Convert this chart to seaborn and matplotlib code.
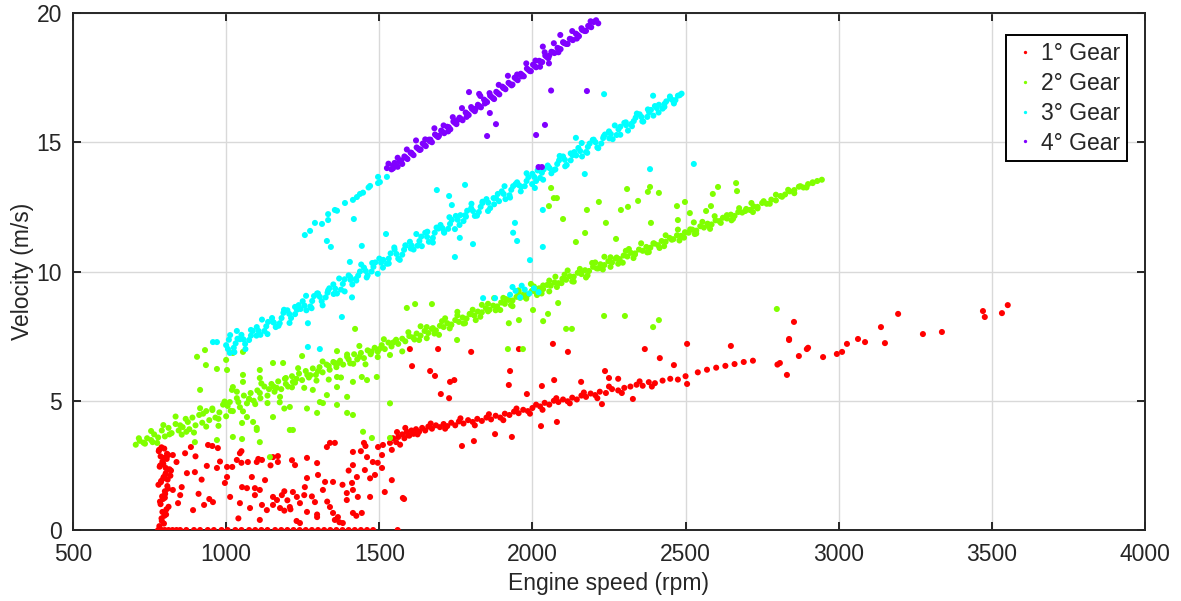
import matplotlib
matplotlib.use("Agg")
import matplotlib.pyplot as plt
import seaborn as sns
import pandas as pd

# ---------------- data (engine speed rpm, velocity m/s) ----------------
gear1_idle = [(782,0.15),(790,0.35),(798,0.55),(805,0.8),(786,1.0),(794,1.2),(801,1.4),(810,1.6),
              (779,1.75),(788,1.9),(796,2.05),(803,2.2),(815,2.35),(785,2.5),(792,2.65),(799,2.8),
              (807,2.95),(781,3.1),(789,3.2),(797,0.25),(804,0.6),(812,0.9),(784,1.1),(791,1.3),
              (800,1.5),(808,1.7),(787,1.85),(795,2.0),(802,2.15),(820,2.3),(783,2.45),(793,2.6),
              (806,2.75),(811,2.9),(780,3.05),(798,3.15),(789,0.45),(826,1.55),(803,2.4),(795,2.55),
              (786,2.85),(809,1.95),(792,0.7),(818,2.1),(800,1.25)]
gear1_zero = [778,790,800,812,825,838,850,870,895,915,940,960,985,1005,1030,1050,1075,1095,1115,
              1135,1160,1180,1200,1220,1240,1260,1280,1300,1320,1340,1360,1380,1400,1420,1440,
              1460,1480,1560]
gear1_low = [(826,2.90),(838,2.63),(866,2.97),(885,3.21),(872,2.20),(898,2.24),(855,1.66),(850,1.35),
             (843,1.04),(892,0.77),(928,0.97),(957,1.08),(941,3.29),(955,3.25),(973,3.17),(937,2.48),
             (970,2.40),(1003,2.44),(1020,2.44),(1035,2.71),(1050,2.60),(1071,2.63),(1100,2.63),
             (1117,2.71),(1153,2.82),(1169,2.63),(1003,2.05),(996,1.82),(1084,2.05),(1013,1.28),
             (1045,1.04),(1052,1.66),(1068,1.62),(1094,1.62),(1110,1.55),(1094,1.35),(1078,0.85),
             (1117,0.97),(1127,1.93),(1153,1.28),(1166,1.16),(1182,1.35),(1153,0.97),(1176,0.85),
             (1208,0.89),(1218,1.47),(1231,1.28),(1241,1.04),(1225,2.51),(1264,2.79),(1297,2.59),
             (1264,2.01),(1300,2.13),(1257,1.66),(1323,1.86),(1349,1.86),(1316,1.55),(1290,1.08),
             (1264,0.70),(1297,0.50),(1339,0.89),(1349,0.66),(1365,0.50),(1381,0.27),(1329,3.21),
             (1339,3.37),(1355,3.37),(1414,3.02),(1450,3.37),(1455,3.25),(1414,2.51),(1460,2.82),
             (1453,2.32),(1427,2.05),(1411,1.82),(1414,1.55),(1394,1.43),(1394,1.16),(1430,1.28),
             (1470,1.28),(1443,0.66),(1045,2.97),(1105,2.75),(1169,2.86),(1241,0.27),(1230,0.35),
             (1110,0.39),(1355,0.39),(1370,0.30),(1414,0.66),(1425,0.55),(1297,0.60),(1133,0.77),
             (1190,0.75),(1210,0.80),(920,1.95),(945,1.20),(910,1.40),(1040,0.45),(1255,1.35),
             (1190,1.50),(1280,1.30),(1200,1.15),(1330,1.10),(1380,1.75),(1400,2.30),(1470,2.00),
             (1495,2.60),(1440,3.05),(1050,3.05),(980,2.65),(900,2.85),(1145,2.50),(1215,2.70),
             (1486,2.13),(1479,2.63),(1496,3.21),(1512,3.29),(1509,2.90),(1509,2.40),(1535,3.37),
             (1541,3.10),(1541,1.93),(1518,1.47),(1577,1.24),(1558,3.79),(1594,3.67),(1545,3.55)]
gear1_band = [(1555,3.40),(1562,3.60),(1568,3.30),(1575,3.70),(1582,3.55),(1590,3.80),(1598,3.65),
              (1605,3.85),(1612,3.72),(1620,3.90),(1630,3.80),(1640,3.95),(1650,3.85),(1660,4.00),
              (1672,3.92),(1685,4.05),(1698,3.98),(1710,4.10),(1722,4.02),(1735,4.15),(1748,4.05),
              (1760,4.20),(1775,4.12),(1790,4.25),(1805,4.18),(1820,4.30),(1835,4.22),(1850,4.35),
              (1865,4.28),(1880,4.42),(1895,4.35),(1910,4.50),(1925,4.45),(1940,4.58),(1955,4.52),
              (1970,4.65),(1985,4.60),(2000,4.72),(2012,4.85),(2025,4.78),(2040,4.92),(2055,4.85),
              (2070,5.00),(2085,4.95),(2100,5.05),(2115,4.98),(2130,5.12),(2145,5.05),(2160,5.20),
              (2175,5.15),(2190,5.28),(2205,5.22),(2220,5.35),(2240,5.30),(2260,5.45),(2280,5.40),
              (2300,5.50),(2320,5.55),(2340,5.62),(2360,5.58),(2380,5.72),(2400,5.68),(2425,5.78),
              (2450,5.85),(2475,5.82),(2500,5.95),(2540,6.10),(2570,6.20),(2600,6.28),(2630,6.35),
              (2660,6.42),(2690,6.50),(2720,6.55),(2800,6.40),(2831,6.00),(2870,6.73),(2896,7.00),
              (2949,6.69),(2994,6.81),(3011,6.89),(3027,7.20),(3063,7.39),(3086,7.27),(3151,7.23),
              (3138,7.85),(3194,8.36),(3275,7.58),(3337,7.66),(3471,8.47),(3477,8.24),(3533,8.39),
              (3552,8.70),(2808,6.46),(2838,7.39),(2854,8.05),(2900,7.05),
              (1585,3.95),(1625,3.70),(1668,4.12),(1715,3.92),(1765,4.32),(1812,4.05),(1858,4.48),
              (1905,4.25),(1948,4.70),(1992,4.50),(2033,4.65),(2078,5.10),(2122,4.90),(2168,5.32),
              (2212,5.10),(2250,5.55),(2292,5.30),(2350,5.75),(2390,5.55)]
gear1_out = [(2067,7.20),(2116,6.89),(2237,6.15),(2250,5.88),(2280,5.85),(2367,7.00),(2416,6.65),
             (2462,6.38),(2505,7.20),(2505,5.65),(2648,7.12),(2838,7.35),(1800,6.89),(1927,6.15),
             (1923,5.61),(1956,7.00),(1600,7.00),(1692,7.00),(1607,6.34),(1666,6.15),(1682,5.96),
             (1731,5.73),(1745,5.80),(1701,5.26),(1728,5.10),(1982,5.26),(2031,5.57),(2071,5.80),
             (2159,5.73),(1770,3.25),(1809,3.44),(1878,3.71),(1933,3.60),(2028,4.02),(2080,4.18),
             (2227,4.87),(2328,5.07),(1581,1.20)]

gear2_band = [(705,3.30),(718,3.45),(730,3.38),(742,3.55),(755,3.48),(765,3.70),(778,3.58),(790,3.85),
              (800,3.62),(812,3.95),(822,3.75),(835,4.10),(845,3.85),(858,3.98),(868,4.30),(880,3.90),
              (890,4.35),(900,4.05),(912,4.45),(922,4.15),(935,4.60),(945,4.25),(955,4.70),(965,4.35),
              (978,4.55),(990,4.85),(1000,4.40),(1012,4.95),(1022,4.60),(1035,5.10),(1045,4.75),
              (1058,5.20),(1068,4.90),(1080,5.30),(1090,5.00),(1102,5.40),(1112,5.10),(1125,5.55),
              (1135,5.20),(1148,5.65),(1158,5.35),(1170,5.75),(1180,5.45),(1192,5.85),(1202,5.55),
              (1215,5.95),(1225,5.70),(1238,6.05),(1248,5.80),(1260,6.15),(1270,5.90),(1283,6.25),
              (1293,6.00),(1305,6.30),(1315,6.10),(1328,6.40),(1338,6.20),(1350,6.50),(1360,6.30),
              (1372,6.55),(1382,6.40),(1395,6.70),(1405,6.45),(1418,6.80),(1428,6.60),(1440,6.85),
              (1450,6.65),(1462,6.95),(1472,6.80),(1485,7.05),(1495,6.90),(1508,7.15),(1518,7.00),
              (1530,7.25),(1540,7.10),(1552,7.30),(1562,7.20),(1575,7.40),(1585,7.30),(1598,7.50),
              (760,3.40),(850,4.05),(870,3.80),(925,4.50),(975,4.30),(1005,4.80),(1040,4.95),
              (1075,5.05),(1110,5.30),(1140,5.45),(1165,5.50),(1195,5.65),(1230,5.85),(1265,6.00),
              (1300,6.15),(1335,6.35),(1365,6.45),(1400,6.60),(1435,6.70),(1470,6.90),(1500,7.00),
              (1545,7.25),
              (1610,7.45),(1622,7.60),(1635,7.52),(1648,7.70),(1660,7.62),(1672,7.78),(1685,7.72),
              (1698,7.90),(1710,7.85),(1722,8.00),(1735,7.95),(1748,8.12),(1760,8.05),(1772,8.22),
              (1785,8.18),(1798,8.35),(1810,8.30),(1822,8.45),(1835,8.42),(1848,8.58),(1860,8.52),
              (1872,8.68),(1885,8.65),(1898,8.80),(1910,8.75),(1922,8.90),(1935,8.88),(1948,9.02),
              (1960,8.98),(1972,9.12),(1985,9.10),(1998,9.25),(2010,9.22),(2022,9.35),(2035,9.32),
              (2048,9.48),(2060,9.45),(2072,9.58),(2085,9.55),(2098,9.72),(2110,9.68),(2122,9.82),
              (2135,9.80),(2148,9.95),(2160,9.90),(2172,10.05),(2185,10.02),(2198,10.18),(2210,10.12),
              (2222,10.28),(2235,10.25),(2248,10.40),(2260,10.35),(2272,10.50),(2285,10.48),
              (2298,10.62),(2310,10.58),(2322,10.72),(2335,10.70),(2348,10.85),(2360,10.80),
              (2372,10.95),(2385,10.92),(2398,11.08),(2410,11.02),(2422,11.18),(2435,11.15),
              (2448,11.30),(2460,11.25),(2472,11.40),(2485,11.38),(2498,11.52),(2510,11.50),
              (2522,11.62),(2535,11.58),(2548,11.75),(2560,11.70),(2572,11.85),(2585,11.82),
              (2598,11.98),(2610,11.95),(2622,12.08),(2635,12.05),(2648,12.20),(2660,12.15),
              (2672,12.30),(2685,12.28),(2698,12.42),(2710,12.38),(2722,12.52),(2735,12.50),
              (2750,12.65),(2765,12.62),(2780,12.78),(2795,12.75),(2810,12.92),(2825,12.98),
              (2840,13.10),(2855,13.15),(2870,13.28),(2885,13.25),(2900,13.38),(2915,13.42),
              (2930,13.50),(2945,13.55),
              (1630,7.35),(1680,7.60),(1730,7.80),(1780,8.00),(1830,8.25),(1880,8.50),(1930,8.70),
              (1980,8.95),(2030,9.15),(2080,9.40),(2130,9.62),(2180,9.85),(2230,10.08),(2280,10.30),
              (2330,10.52),(2380,10.75),(2430,10.98),(2480,11.20),(2530,11.45),(2580,11.65),
              (2650,11.98),(2720,12.30),(1655,7.85),(1705,8.08),(1755,8.30),(1805,8.52),(1855,8.75),
              (1905,8.98),(1955,9.20),(2005,9.42),(2055,9.65),(2105,9.88),(2155,10.10),(2205,10.35),
              (2255,10.55),(2305,10.80)]
gear2_band_more = [(715,3.55),(735,3.34),(755,3.83),(775,3.37),(795,4.06),(815,3.70),(835,4.39),
                   (855,3.69),(875,4.18),(895,3.77),(915,4.71),(935,4.00),(955,4.64),(975,4.03),
                   (995,4.97),(1015,4.61),(1035,5.35),(1055,4.59),(1075,5.08),(1095,4.87),(1115,5.67),
                   (1135,4.91),(1155,5.55),(1175,4.94),(1195,5.88),(1215,5.52),(1235,6.26),(1255,5.50),
                   (1275,5.99),(1295,5.78),(1315,6.52),(1335,5.82),(1355,6.46),(1375,5.90),(1395,6.79),
                   (1415,6.43),(1435,7.12),(1455,6.41),(1475,6.90),(1495,6.69),(1515,7.38),(1535,6.77),
                   (1555,7.36),(1575,6.91),(1595,7.65),(1615,7.37),(1635,7.88),(1655,7.42),(1675,7.81),
                   (1695,7.55),(1715,8.19),(1735,7.93),(1755,8.44),(1775,7.99),(1795,8.36),(1815,8.12),
                   (1835,8.71),(1855,8.46),(1875,8.97),(1895,8.51),(1915,8.93),(1935,8.66),(1955,9.27),
                   (1975,9.02),(1995,9.52),(2015,9.09),(2035,9.46),(2055,9.23),(2075,9.80),(2095,9.55),
                   (2115,10.04),(2135,9.61),(2155,10.00),(2175,9.77),(2195,10.33),(2215,10.12),
                   (2235,10.57),(2255,10.18),(2275,10.54),(2295,10.34),(2315,10.87),(2335,10.66),
                   (2355,11.09),(2375,10.74),(2395,11.09),(2415,10.91),(2435,11.40),(2455,11.23),
                   (2475,11.62),(2495,11.31),(2515,11.63),(2535,11.47),(2555,11.92),(2575,11.77),
                   (2595,12.14),(2615,11.88),(2635,12.18),(2655,12.04),(2675,12.45),(2695,12.34),
                   (2715,12.65),(2735,12.44),(2755,12.72),(2775,12.62),(2795,12.97),(2815,12.89),
                   (2835,13.16),(2855,13.03),(2875,13.30),(2895,13.25),(2915,13.45)]
gear2_out = [(905,6.70),(931,6.96),(934,6.38),(970,6.23),(1000,6.58),(1003,6.19),(1022,6.85),
             (1055,6.89),(1055,6.00),(1110,6.19),(1153,6.46),(1186,6.46),(1248,6.73),(1362,6.92),
             (1421,7.78),(1590,8.59),(1617,8.74),(1672,8.74),(915,5.42),(1019,5.42),(1535,4.90),
             (1492,5.92),(1110,3.40),(1100,3.87),(1218,3.87),(1208,3.87),(1297,4.53),(1395,4.53),
             (1414,4.45),(1362,4.84),(1306,4.95),(1264,4.70),(1447,3.80),(1476,3.56),(1143,2.82),
             (1535,3.56),(1022,3.60),(1052,3.52),(970,3.48),(898,3.40),(1218,5.73),(1283,5.42),
             (1329,5.22),(1362,5.53),(1395,5.15),(1414,5.73),(1316,4.91),(1208,4.76),(1190,4.70),
             (1153,4.37),(1176,5.15),(1088,4.18),(1052,4.14),(1100,3.95),(1068,4.37),(1110,5.88),
             (1055,5.73),(1022,5.53),(1362,5.92),(1443,5.92),(1460,5.80),
             (1754,7.35),(1920,7.00),(1969,7.00),(1923,8.00),(1956,8.12),(2002,8.51),(2035,8.08),
             (2051,8.36),(2110,7.78),(2129,7.78),(2084,8.78),(2234,8.28),(2302,8.28),(2394,7.85),
             (2413,8.12),(2798,8.55),
             (2061,13.23),(2080,12.84),(2070,12.84),(2054,12.53),(2100,12.03),(2142,11.14),
             (2178,12.38),(2172,11.49),(2217,12.69),(2240,11.88),(2273,11.26),(2289,12.38),
             (2309,13.19),(2312,12.50),(2345,12.73),(2377,13.08),(2384,13.27),(2413,13.04),
             (2387,11.88),(2472,12.53),(2475,11.99),(2498,12.69),(2514,12.26),(2583,12.53),
             (2589,13.00),(2606,13.27),(2665,13.42),(2668,13.11),(2567,12.34),(2527,11.90)]

gear3_band = [(1000,7.15),(1012,6.85),(1025,7.05),(1037,7.40),(1050,7.55),(1062,7.20),(1075,7.35),
              (1087,7.70),(1100,7.85),(1112,7.55),(1125,7.70),(1137,8.05),(1150,8.20),(1162,7.85),
              (1175,8.00),(1187,8.40),(1200,8.50),(1212,8.20),(1225,8.35),(1237,8.70),(1250,8.85),
              (1262,8.50),(1275,8.65),(1287,9.05),(1300,9.15),(1312,8.85),(1325,9.00),(1337,9.35),
              (1350,9.50),(1362,9.15),(1375,9.30),(1387,9.70),(1400,9.85),(1412,9.50),(1425,9.65),
              (1437,10.00),(1450,10.15),(1462,9.85),(1475,10.00),(1487,10.35),(1500,10.50),
              (1512,10.15),(1525,10.30),(1537,10.70),(1550,10.85),(1562,10.50),(1575,10.65),
              (1587,11.00),(1600,11.15),(1612,10.85),(1625,11.00),(1637,11.35),(1650,11.50),
              (1662,11.15),(1675,11.30),(1687,11.70),(1700,11.80),(1712,11.50),(1725,11.65),
              (1737,12.00),(1750,12.15),(1762,11.80),(1775,11.95),(1787,12.35),(1800,12.45),
              (1812,12.15),(1825,12.30),(1837,12.65),(1850,12.80),(1862,12.45),(1875,12.60),
              (1887,13.00),(1900,13.10),(1912,12.80),(1925,12.95),(1937,13.30),(1950,13.45),
              (1962,13.10),(1975,13.30),(1987,13.65),(2000,13.78),(2012,13.50),(2025,13.62),
              (2037,13.95),(2050,14.10),(2062,13.80),(2075,13.95),(2087,14.30),(2100,14.45),
              (2112,14.12),(2125,14.30),(2137,14.62),(2150,14.78),(2162,14.45),(2175,14.62),
              (2187,14.95),(2200,15.10),(2212,14.80),(2225,14.95),(2237,15.30),(2250,15.42),
              (2262,15.12),(2275,15.28),(2287,15.60),(2300,15.75),(2312,15.45),(2325,15.62),
              (2337,15.95),(2350,16.08),(2362,15.80),(2375,15.98),(2387,16.25),(2400,16.40),
              (2412,16.15),(2425,16.30),(2437,16.58),(2450,16.70),(2462,16.50),(2475,16.80),
              (2487,16.88),
              (1006,7.00),(1031,7.22),(1056,7.38),(1081,7.52),(1106,7.70),(1131,7.88),(1156,8.02),
              (1181,8.20),(1206,8.36),(1231,8.52),(1256,8.68),(1281,8.86),(1306,9.02),(1331,9.18),
              (1356,9.34),(1381,9.52),(1406,9.68),(1431,9.84),(1456,10.02),(1481,10.18),(1506,10.34),
              (1531,10.50),(1556,10.68),(1581,10.84),(1606,11.00),(1631,11.18),(1656,11.34),
              (1681,11.50),(1706,11.68),(1731,11.84),(1756,12.00),(1781,12.18),(1806,12.34),
              (1831,12.50),(1856,12.66),(1881,12.84),(1906,13.00),(1931,13.16),(1956,13.34),
              (1981,13.50),(2006,13.66),(2031,13.82),(2056,14.00),(2081,14.16),(2106,14.32),
              (2131,14.50),(2156,14.66),(2181,14.82),(2206,15.00),(2231,15.16),(2256,15.32),
              (2281,15.50),(2306,15.66),(2331,15.82),(2356,15.98),(2381,16.16),(2406,16.32),
              (2431,16.48),(2456,16.64),(2481,16.82)]
gear3_band_more = [(1009,7.36),(1027,6.88),(1045,7.38),(1063,7.00),(1081,7.74),(1099,7.52),(1117,8.14),
                   (1135,7.58),(1153,8.05),(1171,7.90),(1189,8.52),(1207,8.01),(1225,8.63),(1243,8.55),
                   (1261,9.06),(1279,8.58),(1297,9.15),(1315,8.69),(1333,9.27),(1351,9.13),(1369,9.73),
                   (1387,9.23),(1405,9.79),(1423,9.71),(1441,10.27),(1459,9.77),(1477,10.33),
                   (1495,9.91),(1513,10.45),(1531,10.31),(1549,10.93),(1567,10.45),(1585,11.01),
                   (1603,10.89),(1621,11.45),(1639,10.98),(1657,11.54),(1675,11.12),(1693,11.66),
                   (1711,11.54),(1729,12.10),(1747,11.64),(1765,12.18),(1783,12.12),(1801,12.62),
                   (1819,12.16),(1837,12.70),(1855,12.34),(1873,12.84),(1891,12.72),(1909,13.30),
                   (1927,12.86),(1945,13.38),(1963,13.28),(1981,13.80),(1999,13.38),(2017,13.91),
                   (2035,13.55),(2053,14.03),(2071,13.93),(2089,14.47),(2107,14.07),(2125,14.57),
                   (2143,14.49),(2161,14.97),(2179,14.59),(2197,15.09),(2215,14.77),(2233,15.23),
                   (2251,15.15),(2269,15.65),(2287,15.29),(2305,15.77),(2323,15.71),(2341,16.11),
                   (2359,15.81),(2377,16.27),(2395,16.03),(2413,16.45),(2431,16.37),(2449,16.77),
                   (2467,16.63)]
gear3_out = [(957,7.27),(970,7.27),(1013,7.54),(1035,7.70),(1267,7.08),(1306,7.00),(1267,8.00),
             (1378,8.24),(1411,9.00),(1404,10.37),(1329,11.18),(1342,10.95),(1443,10.99),
             (1522,11.45),(1257,11.41),(1274,11.57),(1290,11.88),(1313,11.84),(1333,11.99),
             (1333,12.22),(1355,12.38),(1362,12.35),(1388,12.65),(1414,12.77),(1427,12.88),
             (1437,13.00),(1447,13.05),(1470,13.31),(1465,13.25),(1496,13.42),(1496,13.66),
             (1525,13.66),(1502,13.46),(1417,12.03),(1688,13.15),(1728,12.92),(1737,12.57),
             (1780,13.35),(1747,10.56),(1806,11.06),(1763,11.30),(1943,11.88),(1937,11.50),
             (1950,11.18),(2034,10.95),(2034,12.38),(2008,13.23),(1992,10.44),(1927,9.10),
             (1945,9.25),(1960,9.00),(1975,9.30),(1990,9.15),(2005,9.35),(2020,9.20),(1935,9.40),
             (1965,9.45),(1839,8.97),(1878,8.97),(2234,16.86),(2394,16.80),(2142,15.17),
             (2527,14.16),(2384,13.96),(2171,13.77)]

gear4_band = [(1525,14.00),(1540,13.95),(1550,14.20),(1560,14.05),(1572,14.30),(1582,14.45),
              (1592,14.35),(1602,14.60),(1612,14.50),(1622,14.80),(1632,14.70),(1642,14.95),
              (1652,14.85),(1662,15.10),(1672,15.00),(1682,15.30),(1692,15.20),(1702,15.45),
              (1712,15.35),(1722,15.60),(1732,15.50),(1742,15.80),(1752,15.70),(1762,15.95),
              (1772,15.85),(1782,16.15),(1792,16.05),(1802,16.30),(1812,16.20),(1822,16.45),
              (1832,16.35),(1842,16.65),(1852,16.55),(1862,16.80),(1872,16.70),(1882,16.95),
              (1892,16.85),(1902,17.15),(1912,17.05),(1922,17.30),(1932,17.20),(1942,17.50),
              (1952,17.40),(1962,17.65),(1972,17.55),(1982,17.85),(1992,17.75),(2002,18.00),
              (2012,17.90),(2022,18.15),(2032,18.10),(2042,18.35),(2052,18.25),(2062,18.50),
              (2072,18.45),(2082,18.65),(2092,18.60),(2102,18.85),(2112,18.80),(2122,19.00),
              (2132,18.95),(2142,19.20),(2152,19.10),(2162,19.35),(2172,19.30),(2182,19.50),
              (2192,19.45),(2200,19.65),(2208,19.72),(2215,19.60),
              (1545,14.10),(1565,14.25),(1587,14.40),(1607,14.55),(1627,14.75),(1647,14.90),
              (1667,15.10),(1687,15.25),(1707,15.40),(1727,15.58),(1747,15.75),(1767,15.90),
              (1787,16.10),(1807,16.25),(1827,16.40),(1847,16.60),(1867,16.75),(1887,16.90),
              (1907,17.10),(1927,17.25),(1947,17.45),(1967,17.60),(1987,17.80),(2007,17.95),
              (2027,18.12),(2047,18.30),(2067,18.48),(2087,18.62),(2107,18.82),(2127,18.98),
              (2147,19.15),(2167,19.32),(2187,19.48),(2205,19.68)]
gear4_band_more = [(1530,14.17),(1545,13.99),(1560,14.40),(1575,14.16),(1590,14.72),(1605,14.59),
                   (1620,15.07),(1635,14.72),(1650,15.11),(1665,15.04),(1680,15.54),(1695,15.25),
                   (1710,15.65),(1725,15.42),(1740,15.97),(1755,15.85),(1770,16.32),(1785,15.98),
                   (1800,16.36),(1815,16.30),(1830,16.79),(1845,16.50),(1860,16.90),(1875,16.67),
                   (1890,17.22),(1905,17.10),(1920,17.57),(1935,17.23),(1950,17.62),(1965,17.55),
                   (1980,18.05),(1995,17.75),(2010,18.16),(2025,17.92),(2040,18.48),(2055,18.35),
                   (2070,18.83),(2085,18.48),(2100,18.87),(2115,18.80),(2130,19.30),(2145,19.01),
                   (2160,19.41),(2175,19.31),(2190,19.68)]
gear4_out = [(1793,16.94),(1826,16.87),(1861,16.13),(1881,15.70),(1852,15.24),(2061,17.00),
             (2178,16.98),(2012,15.28),(2041,15.67),(2034,18.70),(2020,14.04),(2031,14.04),
             (2091,19.15),(2054,18.05)]

gear_labels = ["1\u00b0 Gear", "2\u00b0 Gear", "3\u00b0 Gear", "4\u00b0 Gear"]
gear_colors = ["#ff0000", "#80ff00", "#00ffff", "#8000ff"]
x_ticks = [500, 1000, 1500, 2000, 2500, 3000, 3500, 4000]
y_ticks = [0, 5, 10, 15, 20]

# ---------------- build table ----------------
rows = []
g1 = gear1_idle + [(r, 0.0) for r in gear1_zero] + gear1_low + gear1_band + gear1_out
g2 = gear2_band + gear2_band_more + gear2_out
g3 = gear3_band + gear3_band_more + gear3_out
g4 = gear4_band + gear4_band_more + gear4_out
for groups, lab in [(g1, gear_labels[0]), (g2, gear_labels[1]), (g3, gear_labels[2]), (g4, gear_labels[3])]:
    for r, v in groups:
        rows.append({"rpm": r, "vel": v, "gear": lab})
df = pd.DataFrame(rows)

# ---------------- plot ----------------
sns.set_theme(style="white")
plt.rcParams["font.family"] = ["Liberation Sans", "DejaVu Sans"]
FS = 16.5
TXT = "#262626"

fig = plt.figure(figsize=(11.81, 6.01), dpi=100)
ax = fig.add_axes([0.0618, 0.1181, 0.9077, 0.8603])

sns.scatterplot(data=df, x="rpm", y="vel", hue="gear", hue_order=gear_labels,
                palette=dict(zip(gear_labels, gear_colors)), s=19, linewidth=0,
                edgecolor="none", ax=ax, legend=True, zorder=3)

ax.set_xlim(500, 4000)
ax.set_ylim(0, 20)
ax.set_xticks(x_ticks)
ax.set_yticks(y_ticks)
ax.grid(True, color="#d9d9d9", linewidth=1.0, zorder=0)
ax.set_axisbelow(True)
for sp in ax.spines.values():
    sp.set_color(TXT)
    sp.set_linewidth(1.4)
ax.tick_params(direction="in", length=6, width=1.4, colors=TXT, labelsize=FS,
               top=True, right=True, bottom=True, left=True)
ax.tick_params(axis="x", pad=9)
ax.tick_params(axis="y", pad=8)
ax.set_xlabel("Engine speed (rpm)", fontsize=FS, color=TXT, labelpad=5)
ax.set_ylabel("Velocity (m/s)", fontsize=FS, color=TXT, labelpad=2)

leg = ax.legend(loc="upper right", bbox_to_anchor=(0.9832, 0.9574), borderaxespad=0,
                fontsize=FS, frameon=True, fancybox=False, markerscale=0.55,
                handletextpad=0.2, labelspacing=0.3, borderpad=0.3, handlelength=1.0)
leg.get_frame().set_edgecolor("black")
leg.get_frame().set_linewidth(1.4)
leg.get_frame().set_alpha(1)

fig.savefig("out.png", dpi=100)
